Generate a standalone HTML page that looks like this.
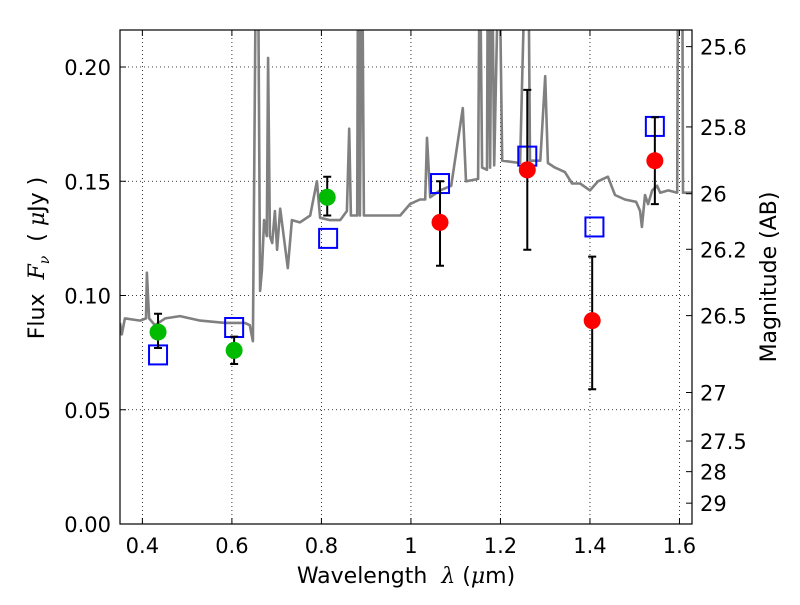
<!DOCTYPE html>
<html><head><meta charset="utf-8"><style>
body{margin:0;background:#fff}
svg text{font-family:"DejaVu Sans","Liberation Sans",sans-serif;fill:#000;white-space:pre}
</style></head><body>
<svg id="c" width="800" height="600" viewBox="0 0 800 600" xmlns="http://www.w3.org/2000/svg">
<defs><clipPath id="pc"><rect x="120" y="30" width="572" height="494"/></clipPath></defs>
<rect x="0" y="0" width="800" height="600" fill="#fff"/>
<g id="grid"></g>
<g id="spec" clip-path="url(#pc)"></g>
<g id="marks" clip-path="url(#pc)"></g>
<rect x="120" y="30" width="572" height="494" fill="none" stroke="#000" stroke-width="1.2"/>
<g id="axes"></g>
<text x="406" y="583" font-size="22" text-anchor="middle" xml:space="preserve">Wavelength  <tspan font-style="italic" font-family="DejaVu Serif,serif">λ</tspan> (<tspan font-style="italic" font-family="DejaVu Serif,serif">μ</tspan>m)</text>
<text transform="translate(44,258) rotate(-90)" font-size="22" text-anchor="middle" xml:space="preserve">Flux  <tspan font-style="italic" font-family="DejaVu Serif,serif">F</tspan><tspan font-style="italic" font-family="DejaVu Serif,serif" font-size="14" dy="5">ν</tspan><tspan dy="-5">  ( </tspan><tspan font-style="italic" font-family="DejaVu Serif,serif">μ</tspan>Jy )</text>
<text transform="translate(776,277) rotate(-90)" font-size="22" text-anchor="middle">Magnitude (AB)</text>
</svg>
<script>
const xTicks=[0.4,0.6,0.8,1.0,1.2,1.4,1.6];
const xTickLabels=["0.4","0.6","0.8","1","1.2","1.4","1.6"];
const yTicks=[0,0.05,0.10,0.15,0.20];
const yTickLabels=["0.00","0.05","0.10","0.15","0.20"];
const magTicks=[25.6,25.8,26,26.2,26.5,27,27.5,28,29];
const magTickLabels=["25.6","25.8","26","26.2","26.5","27","27.5","28","29"];
const specWave=[0.350,0.354,0.361,0.395,0.408,0.410,0.415,0.428,0.451,0.484,0.529,0.585,0.629,0.640,0.647,0.654,0.658,0.663,0.667,0.672,0.678,0.681,0.685,0.690,0.696,0.701,0.708,0.725,0.734,0.752,0.775,0.790,0.797,0.819,0.842,0.857,0.862,0.866,0.880,0.882,0.886,0.891,0.895,0.931,0.976,0.998,1.020,1.032,1.036,1.043,1.065,1.090,1.116,1.123,1.150,1.154,1.159,1.170,1.172,1.177,1.181,1.186,1.197,1.204,1.244,1.257,1.262,1.266,1.289,1.300,1.306,1.322,1.344,1.360,1.378,1.400,1.418,1.440,1.456,1.478,1.503,1.512,1.516,1.523,1.530,1.539,1.550,1.557,1.575,1.595,1.597,1.606,1.608,1.628];
const specFlux=[0.088,0.083,0.090,0.089,0.090,0.110,0.090,0.087,0.090,0.091,0.089,0.088,0.088,0.087,0.080,0.260,0.260,0.102,0.111,0.133,0.126,0.204,0.126,0.123,0.137,0.120,0.138,0.112,0.133,0.132,0.135,0.150,0.134,0.133,0.133,0.137,0.173,0.135,0.135,0.260,0.135,0.260,0.135,0.135,0.135,0.140,0.142,0.142,0.169,0.143,0.146,0.148,0.182,0.150,0.151,0.260,0.156,0.155,0.260,0.156,0.260,0.157,0.260,0.159,0.158,0.260,0.260,0.159,0.159,0.196,0.158,0.156,0.154,0.149,0.149,0.146,0.150,0.152,0.144,0.142,0.141,0.137,0.130,0.144,0.140,0.146,0.148,0.145,0.146,0.145,0.260,0.260,0.145,0.145];
const photWave=[0.435,0.605,0.813,1.065,1.26,1.405,1.545];
const photFlux=[0.084,0.076,0.143,0.132,0.155,0.089,0.159];
const photErrLo=[0.077,0.070,0.135,0.113,0.120,0.059,0.140];
const photErrHi=[0.092,0.082,0.152,0.150,0.190,0.117,0.178];
const modelWave=[0.435,0.605,0.815,1.065,1.26,1.41,1.545];
const modelFlux=[0.074,0.086,0.125,0.149,0.161,0.130,0.174];
const photColor=["#00bb00","#00bb00","#00bb00","#ff0000","#ff0000","#ff0000","#ff0000"];

const X0=120,X1=692,Y0=524,Y1=30,XMIN=0.35,XMAX=1.628,YMIN=0,YMAX=0.2162;
const xs=v=>X0+(v-XMIN)/(XMAX-XMIN)*(X1-X0);
const ys=v=>Y0-(v-YMIN)/(YMAX-YMIN)*(Y0-Y1);
const magY=m=>ys(Math.pow(10,(23.9-m)/2.5));
const NS="http://www.w3.org/2000/svg";
function mk(tag,attrs,parent){const e=document.createElementNS(NS,tag);for(const k in attrs)e.setAttribute(k,attrs[k]);parent.appendChild(e);return e;}
const grid=document.getElementById('grid'),axes=document.getElementById('axes'),spec=document.getElementById('spec'),marks=document.getElementById('marks');

xTicks.forEach((t,i)=>{const x=xs(t);
 let g=mk('line',{x1:x,x2:x,y1:Y1,y2:Y0,stroke:'#000','stroke-width':0.8,'stroke-dasharray':'1,3'},grid);
 
 
 mk('line',{x1:x,x2:x,y1:Y0,y2:Y0-6,stroke:'#000'},axes);
 mk('line',{x1:x,x2:x,y1:Y1,y2:Y1+6,stroke:'#000'},axes);
 let tx=mk('text',{x:x,y:Y0+29,'font-size':21,'text-anchor':'middle'},axes);tx.textContent=xTickLabels[i];
 
 
});
yTicks.forEach((t,i)=>{const y=ys(t);
 let g=mk('line',{x1:X0,x2:X1,y1:y,y2:y,stroke:'#000','stroke-width':0.8,'stroke-dasharray':'1,3'},grid);
 
 
 mk('line',{x1:X0,x2:X0+6,y1:y,y2:y,stroke:'#000'},axes);
 let tx=mk('text',{x:X0-9,y:y+8,'font-size':21,'text-anchor':'end'},axes);tx.textContent=yTickLabels[i];
 
 
});
magTicks.forEach((m,i)=>{const y=magY(m);
 mk('line',{x1:X1,x2:X1-6,y1:y,y2:y,stroke:'#000'},axes);
 let tx=mk('text',{x:X1+8,y:y+8,'font-size':21,'text-anchor':'start'},axes);tx.textContent=magTickLabels[i];
 
 
});
let d=specWave.map((w,i)=>(i?'L':'M')+xs(w).toFixed(1)+','+ys(specFlux[i]).toFixed(1)).join('');
let sp=mk('path',{d:d,fill:'none',stroke:'#808080','stroke-width':2.6,'stroke-linejoin':'round'},spec);


modelWave.forEach((w,i)=>{const x=xs(w),y=ys(modelFlux[i]);
 let r=mk('rect',{x:x-9,y:y-9.5,width:18,height:19,fill:'none',stroke:'#0000ff','stroke-width':2},marks);
 
 
});
photWave.forEach((w,i)=>{const x=xs(w);
 let e=mk('path',{d:`M${x},${ys(photErrLo[i])}V${ys(photErrHi[i])}M${x-4},${ys(photErrLo[i])}h8M${x-4},${ys(photErrHi[i])}h8`,stroke:'#000','stroke-width':2,fill:'none'},marks);
 
 
 let c=mk('circle',{cx:x,cy:ys(photFlux[i]),r:8.5,fill:photColor[i]},marks);
 
 
});
</script>
</body></html>
